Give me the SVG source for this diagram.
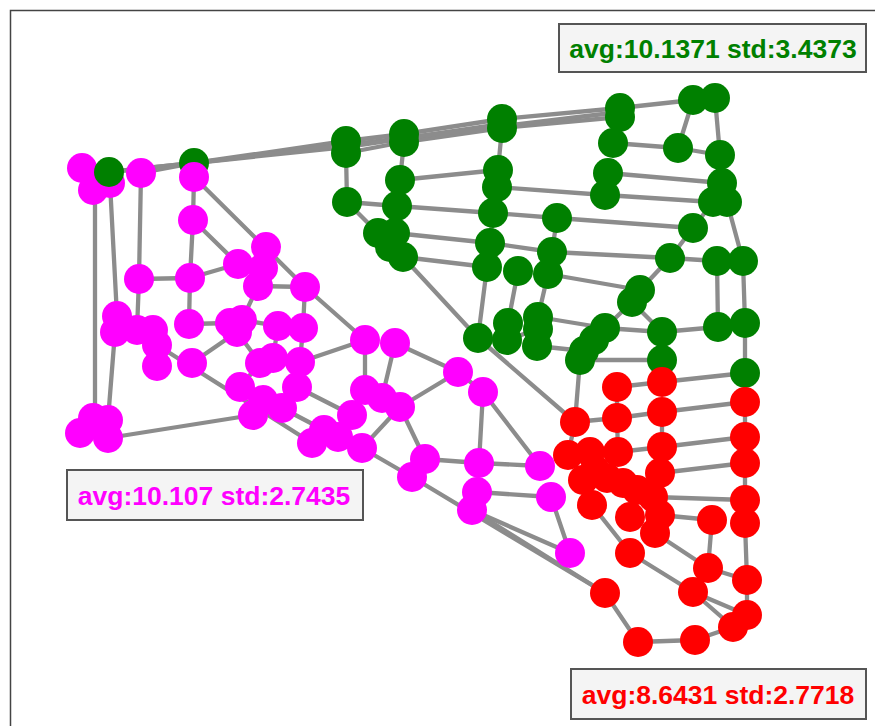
<svg xmlns="http://www.w3.org/2000/svg" width="875" height="726" viewBox="0 0 875 726">
<style>
  .e line { stroke: #8c8c8c; stroke-width: 4.3; stroke-linecap: round; }
  circle { stroke: none; }
  .g { fill: #008000; }
  .m { fill: #ff00ff; }
  .r { fill: #ff0000; }
  .box { fill: #f4f4f4; stroke: #555555; stroke-width: 2; }
  .lbl { font-family: "Liberation Sans", Arial, sans-serif; font-weight: bold; font-size: 26.5px; text-anchor: middle; }
</style>
<rect x="0" y="0" width="875" height="726" fill="#ffffff"/>
<path d="M10.5,726 V10.5 H875" fill="none" stroke="#444444" stroke-width="1.5"/>

<!-- connectors -->
<g id="edges" class="e">
  <!-- long top bundle -->
  <line x1="109" y1="172" x2="194" y2="163"/>
  <line x1="109" y1="172" x2="346" y2="147"/>
  <line x1="141" y1="173" x2="194" y2="163"/>
  <line x1="194" y1="163" x2="346" y2="141"/>
  <line x1="194" y1="163" x2="404" y2="138"/>
  <line x1="346" y1="141" x2="404" y2="134"/>
  <line x1="346" y1="153" x2="404" y2="142"/>
  <line x1="404" y1="134" x2="502" y2="119"/>
  <line x1="404" y1="142" x2="502" y2="128"/>
  <line x1="346" y1="147" x2="502" y2="124"/>
  <line x1="502" y1="119" x2="620" y2="108"/>
  <line x1="502" y1="128" x2="620" y2="117"/>
  <line x1="404" y1="138" x2="620" y2="112"/>
  <line x1="620" y1="108" x2="693" y2="100"/>
  <!-- green region -->
  <line x1="346" y1="153" x2="347" y2="202"/>
  <line x1="404" y1="142" x2="400" y2="180"/>
  <line x1="400" y1="180" x2="397" y2="206"/>
  <line x1="502" y1="128" x2="498" y2="170"/>
  <line x1="400" y1="180" x2="498" y2="170"/>
  <line x1="347" y1="202" x2="397" y2="206"/>
  <line x1="397" y1="206" x2="493" y2="213"/>
  <line x1="347" y1="202" x2="378" y2="233"/>
  <line x1="395" y1="233" x2="490" y2="243"/>
  <line x1="403" y1="257" x2="487" y2="267"/>
  <line x1="493" y1="213" x2="557" y2="218"/>
  <line x1="490" y1="243" x2="552" y2="252"/>
  <line x1="557" y1="218" x2="552" y2="252"/>
  <line x1="403" y1="257" x2="478" y2="338"/>
  <line x1="497" y1="187" x2="605" y2="195"/>
  <line x1="493" y1="213" x2="490" y2="243"/>
  <line x1="552" y1="252" x2="548" y2="274"/>
  <line x1="557" y1="218" x2="693" y2="228"/>
  <line x1="552" y1="252" x2="670" y2="258"/>
  <line x1="670" y1="258" x2="717" y2="261"/>
  <line x1="670" y1="258" x2="640" y2="290"/>
  <line x1="693" y1="228" x2="670" y2="258"/>
  <line x1="713" y1="202" x2="693" y2="228"/>
  <line x1="620" y1="117" x2="613" y2="143"/>
  <line x1="613" y1="143" x2="678" y2="148"/>
  <line x1="678" y1="148" x2="720" y2="155"/>
  <line x1="693" y1="100" x2="678" y2="148"/>
  <line x1="715" y1="98" x2="720" y2="155"/>
  <line x1="720" y1="155" x2="722" y2="183"/>
  <line x1="608" y1="173" x2="722" y2="183"/>
  <line x1="605" y1="195" x2="713" y2="202"/>
  <line x1="727" y1="202" x2="743" y2="261"/>
  <line x1="717" y1="261" x2="718" y2="327"/>
  <line x1="743" y1="261" x2="745" y2="323"/>
  <line x1="745" y1="323" x2="745" y2="373"/>
  <line x1="718" y1="327" x2="662" y2="332"/>
  <line x1="632" y1="302" x2="662" y2="332"/>
  <line x1="605" y1="328" x2="662" y2="332"/>
  <line x1="548" y1="274" x2="640" y2="290"/>
  <line x1="487" y1="267" x2="478" y2="338"/>
  <line x1="518" y1="271" x2="508" y2="323"/>
  <line x1="548" y1="274" x2="538" y2="317"/>
  <line x1="538" y1="317" x2="605" y2="328"/>
  <line x1="537" y1="346" x2="584" y2="351"/>
  <line x1="507" y1="340" x2="538" y2="329"/>
  <line x1="478" y1="338" x2="507" y2="340"/>
  <line x1="580" y1="360" x2="662" y2="360"/>
  <line x1="632" y1="302" x2="605" y2="328"/>
  <line x1="478" y1="338" x2="575" y2="422"/>
  <line x1="580" y1="360" x2="575" y2="422"/>
  <line x1="662" y1="360" x2="662" y2="382"/>
  <line x1="745" y1="373" x2="745" y2="402"/>
  <!-- magenta region -->
  <line x1="95" y1="190" x2="95" y2="418"/>
  <line x1="110" y1="183" x2="117" y2="316"/>
  <line x1="115" y1="332" x2="108" y2="420"/>
  <line x1="141" y1="173" x2="139" y2="279"/>
  <line x1="139" y1="279" x2="190" y2="278"/>
  <line x1="139" y1="279" x2="137" y2="330"/>
  <line x1="194" y1="177" x2="193" y2="220"/>
  <line x1="193" y1="220" x2="190" y2="278"/>
  <line x1="190" y1="278" x2="238" y2="264"/>
  <line x1="193" y1="220" x2="238" y2="264"/>
  <line x1="194" y1="177" x2="305" y2="287"/>
  <line x1="305" y1="287" x2="365" y2="340"/>
  <line x1="258" y1="286" x2="305" y2="287"/>
  <line x1="258" y1="286" x2="242" y2="320"/>
  <line x1="190" y1="278" x2="189" y2="324"/>
  <line x1="189" y1="324" x2="230" y2="323"/>
  <line x1="192" y1="363" x2="237" y2="332"/>
  <line x1="242" y1="320" x2="278" y2="326"/>
  <line x1="237" y1="332" x2="260" y2="363"/>
  <line x1="278" y1="326" x2="273" y2="358"/>
  <line x1="305" y1="287" x2="303" y2="328"/>
  <line x1="303" y1="328" x2="300" y2="362"/>
  <line x1="300" y1="362" x2="365" y2="340"/>
  <line x1="157" y1="345" x2="312" y2="443"/>
  <line x1="108" y1="438" x2="253" y2="415"/>
  <line x1="297" y1="387" x2="352" y2="415"/>
  <line x1="282" y1="408" x2="324" y2="430"/>
  <line x1="300" y1="362" x2="297" y2="387"/>
  <line x1="240" y1="387" x2="263" y2="400"/>
  <line x1="260" y1="363" x2="240" y2="387"/>
  <line x1="365" y1="340" x2="365" y2="390"/>
  <line x1="395" y1="343" x2="382" y2="398"/>
  <line x1="395" y1="343" x2="458" y2="372"/>
  <line x1="400" y1="407" x2="458" y2="372"/>
  <line x1="458" y1="372" x2="483" y2="392"/>
  <line x1="483" y1="392" x2="479" y2="463"/>
  <line x1="483" y1="392" x2="540" y2="466"/>
  <line x1="400" y1="407" x2="425" y2="459"/>
  <line x1="400" y1="407" x2="362" y2="448"/>
  <line x1="362" y1="448" x2="412" y2="477"/>
  <line x1="425" y1="459" x2="479" y2="463"/>
  <line x1="479" y1="463" x2="540" y2="466"/>
  <line x1="477" y1="492" x2="551" y2="497"/>
  <line x1="551" y1="497" x2="570" y2="553"/>
  <line x1="412" y1="477" x2="605" y2="593"/>
  <line x1="472" y1="510" x2="570" y2="553"/>
  <line x1="472" y1="510" x2="605" y2="593"/>
  <line x1="352" y1="415" x2="365" y2="390"/>
  <!-- red region -->
  <line x1="575" y1="422" x2="617" y2="418"/>
  <line x1="617" y1="418" x2="662" y2="412"/>
  <line x1="617" y1="387" x2="662" y2="382"/>
  <line x1="662" y1="382" x2="745" y2="373"/>
  <line x1="662" y1="412" x2="745" y2="402"/>
  <line x1="617" y1="418" x2="618" y2="452"/>
  <line x1="662" y1="412" x2="662" y2="447"/>
  <line x1="662" y1="447" x2="745" y2="437"/>
  <line x1="618" y1="452" x2="662" y2="447"/>
  <line x1="745" y1="402" x2="745" y2="437"/>
  <line x1="575" y1="422" x2="568" y2="455"/>
  <line x1="617" y1="387" x2="617" y2="418"/>
  <line x1="660" y1="473" x2="745" y2="463"/>
  <line x1="653" y1="497" x2="745" y2="500"/>
  <line x1="660" y1="515" x2="712" y2="520"/>
  <line x1="712" y1="520" x2="708" y2="568"/>
  <line x1="708" y1="568" x2="747" y2="580"/>
  <line x1="745" y1="463" x2="745" y2="500"/>
  <line x1="745" y1="523" x2="747" y2="580"/>
  <line x1="747" y1="580" x2="747" y2="615"/>
  <line x1="693" y1="592" x2="733" y2="627"/>
  <line x1="693" y1="592" x2="747" y2="615"/>
  <line x1="655" y1="533" x2="708" y2="568"/>
  <line x1="630" y1="553" x2="693" y2="592"/>
  <line x1="592" y1="505" x2="630" y2="553"/>
  <line x1="605" y1="593" x2="638" y2="642"/>
  <line x1="638" y1="642" x2="695" y2="640"/>
  <line x1="695" y1="640" x2="733" y2="627"/>
</g>

<!-- green nodes -->
<g id="n_g2"><circle class="g" cx="194" cy="163" r="15"/></g>
<g id="n_g3"><circle class="g" cx="346" cy="141" r="15"/></g>
<g id="n_g4"><circle class="g" cx="346" cy="153" r="15"/></g>
<g id="n_g5"><circle class="g" cx="404" cy="134" r="15"/></g>
<g id="n_g6"><circle class="g" cx="404" cy="142" r="15"/></g>
<g id="n_g7"><circle class="g" cx="502" cy="119" r="15"/></g>
<g id="n_g8"><circle class="g" cx="502" cy="128" r="15"/></g>
<g id="n_g9"><circle class="g" cx="620" cy="108" r="15"/></g>
<g id="n_g10"><circle class="g" cx="620" cy="117" r="15"/></g>
<g id="n_g11"><circle class="g" cx="693" cy="100" r="15"/></g>
<g id="n_g12"><circle class="g" cx="715" cy="98" r="15"/></g>
<g id="n_g13"><circle class="g" cx="347" cy="202" r="15"/></g>
<g id="n_g14"><circle class="g" cx="400" cy="180" r="15"/></g>
<g id="n_g15"><circle class="g" cx="397" cy="206" r="15"/></g>
<g id="n_g16"><circle class="g" cx="378" cy="233" r="15"/></g>
<g id="n_g17"><circle class="g" cx="395" cy="233" r="15"/></g>
<g id="n_g18"><circle class="g" cx="390" cy="247" r="15"/></g>
<g id="n_g19"><circle class="g" cx="403" cy="257" r="15"/></g>
<g id="n_g20"><circle class="g" cx="498" cy="170" r="15"/></g>
<g id="n_g21"><circle class="g" cx="497" cy="187" r="15"/></g>
<g id="n_g22"><circle class="g" cx="493" cy="213" r="15"/></g>
<g id="n_g23"><circle class="g" cx="490" cy="243" r="15"/></g>
<g id="n_g24"><circle class="g" cx="487" cy="267" r="15"/></g>
<g id="n_g25"><circle class="g" cx="557" cy="218" r="15"/></g>
<g id="n_g26"><circle class="g" cx="552" cy="252" r="15"/></g>
<g id="n_g27"><circle class="g" cx="518" cy="271" r="15"/></g>
<g id="n_g28"><circle class="g" cx="548" cy="274" r="15"/></g>
<g id="n_g29"><circle class="g" cx="613" cy="143" r="15"/></g>
<g id="n_g30"><circle class="g" cx="678" cy="148" r="15"/></g>
<g id="n_g31"><circle class="g" cx="720" cy="155" r="15"/></g>
<g id="n_g32"><circle class="g" cx="608" cy="173" r="15"/></g>
<g id="n_g33"><circle class="g" cx="605" cy="195" r="15"/></g>
<g id="n_g34"><circle class="g" cx="722" cy="183" r="15"/></g>
<g id="n_g35"><circle class="g" cx="713" cy="202" r="15"/></g>
<g id="n_g36"><circle class="g" cx="727" cy="202" r="15"/></g>
<g id="n_g37"><circle class="g" cx="693" cy="228" r="15"/></g>
<g id="n_g38"><circle class="g" cx="670" cy="258" r="15"/></g>
<g id="n_g39"><circle class="g" cx="717" cy="261" r="15"/></g>
<g id="n_g40"><circle class="g" cx="743" cy="261" r="15"/></g>
<g id="n_g41"><circle class="g" cx="640" cy="290" r="15"/></g>
<g id="n_g42"><circle class="g" cx="632" cy="302" r="15"/></g>
<g id="n_g43"><circle class="g" cx="478" cy="338" r="15"/></g>
<g id="n_g44"><circle class="g" cx="508" cy="323" r="15"/></g>
<g id="n_g45"><circle class="g" cx="507" cy="340" r="15"/></g>
<g id="n_g46"><circle class="g" cx="538" cy="317" r="15"/></g>
<g id="n_g47"><circle class="g" cx="538" cy="329" r="15"/></g>
<g id="n_g48"><circle class="g" cx="537" cy="346" r="15"/></g>
<g id="n_g49"><circle class="g" cx="605" cy="328" r="15"/></g>
<g id="n_g50"><circle class="g" cx="594" cy="340" r="15"/></g>
<g id="n_g51"><circle class="g" cx="584" cy="351" r="15"/></g>
<g id="n_g52"><circle class="g" cx="580" cy="360" r="15"/></g>
<g id="n_g53"><circle class="g" cx="662" cy="332" r="15"/></g>
<g id="n_g54"><circle class="g" cx="662" cy="360" r="15"/></g>
<g id="n_g55"><circle class="g" cx="718" cy="327" r="15"/></g>
<g id="n_g56"><circle class="g" cx="745" cy="323" r="15"/></g>
<g id="n_g57"><circle class="g" cx="745" cy="373" r="15"/></g>

<!-- magenta nodes -->
<g id="n_m1"><circle class="m" cx="82" cy="168" r="15"/></g>
<g id="n_m2"><circle class="m" cx="93" cy="190" r="15"/></g>
<g id="n_m3"><circle class="m" cx="110" cy="183" r="15"/></g>
<g id="n_m4"><circle class="m" cx="141" cy="173" r="15"/></g>
<g id="n_m5"><circle class="m" cx="194" cy="177" r="15"/></g>
<g id="n_m6"><circle class="m" cx="193" cy="220" r="15"/></g>
<g id="n_m7"><circle class="m" cx="266" cy="247" r="15"/></g>
<g id="n_m8"><circle class="m" cx="238" cy="264" r="15"/></g>
<g id="n_m9"><circle class="m" cx="263" cy="268" r="15"/></g>
<g id="n_m10"><circle class="m" cx="258" cy="286" r="15"/></g>
<g id="n_m11"><circle class="m" cx="305" cy="287" r="15"/></g>
<g id="n_m12"><circle class="m" cx="139" cy="279" r="15"/></g>
<g id="n_m13"><circle class="m" cx="190" cy="278" r="15"/></g>
<g id="n_m14"><circle class="m" cx="117" cy="316" r="15"/></g>
<g id="n_m15"><circle class="m" cx="115" cy="332" r="15"/></g>
<g id="n_m16"><circle class="m" cx="137" cy="330" r="15"/></g>
<g id="n_m17"><circle class="m" cx="153" cy="330" r="15"/></g>
<g id="n_m18"><circle class="m" cx="157" cy="345" r="15"/></g>
<g id="n_m19"><circle class="m" cx="157" cy="366" r="15"/></g>
<g id="n_m20"><circle class="m" cx="189" cy="324" r="15"/></g>
<g id="n_m21"><circle class="m" cx="192" cy="363" r="15"/></g>
<g id="n_m22"><circle class="m" cx="230" cy="323" r="15"/></g>
<g id="n_m23"><circle class="m" cx="242" cy="320" r="15"/></g>
<g id="n_m24"><circle class="m" cx="237" cy="332" r="15"/></g>
<g id="n_m25"><circle class="m" cx="278" cy="326" r="15"/></g>
<g id="n_m26"><circle class="m" cx="303" cy="328" r="15"/></g>
<g id="n_m27"><circle class="m" cx="260" cy="363" r="15"/></g>
<g id="n_m28"><circle class="m" cx="273" cy="358" r="15"/></g>
<g id="n_m29"><circle class="m" cx="300" cy="362" r="15"/></g>
<g id="n_m30"><circle class="m" cx="240" cy="387" r="15"/></g>
<g id="n_m31"><circle class="m" cx="297" cy="387" r="15"/></g>
<g id="n_m32"><circle class="m" cx="263" cy="400" r="15"/></g>
<g id="n_m33"><circle class="m" cx="253" cy="415" r="15"/></g>
<g id="n_m34"><circle class="m" cx="282" cy="408" r="15"/></g>
<g id="n_m35"><circle class="m" cx="93" cy="418" r="15"/></g>
<g id="n_m36"><circle class="m" cx="108" cy="420" r="15"/></g>
<g id="n_m37"><circle class="m" cx="80" cy="433" r="15"/></g>
<g id="n_m38"><circle class="m" cx="108" cy="438" r="15"/></g>
<g id="n_m39"><circle class="m" cx="324" cy="430" r="15"/></g>
<g id="n_m40"><circle class="m" cx="312" cy="443" r="15"/></g>
<g id="n_m41"><circle class="m" cx="338" cy="437" r="15"/></g>
<g id="n_m42"><circle class="m" cx="352" cy="415" r="15"/></g>
<g id="n_m43"><circle class="m" cx="362" cy="448" r="15"/></g>
<g id="n_m44"><circle class="m" cx="365" cy="340" r="15"/></g>
<g id="n_m45"><circle class="m" cx="395" cy="343" r="15"/></g>
<g id="n_m46"><circle class="m" cx="458" cy="372" r="15"/></g>
<g id="n_m47"><circle class="m" cx="483" cy="392" r="15"/></g>
<g id="n_m48"><circle class="m" cx="365" cy="390" r="15"/></g>
<g id="n_m49"><circle class="m" cx="382" cy="398" r="15"/></g>
<g id="n_m50"><circle class="m" cx="400" cy="407" r="15"/></g>
<g id="n_m51"><circle class="m" cx="425" cy="459" r="15"/></g>
<g id="n_m52"><circle class="m" cx="412" cy="477" r="15"/></g>
<g id="n_m53"><circle class="m" cx="479" cy="463" r="15"/></g>
<g id="n_m54"><circle class="m" cx="540" cy="466" r="15"/></g>
<g id="n_m55"><circle class="m" cx="477" cy="492" r="15"/></g>
<g id="n_m56"><circle class="m" cx="472" cy="510" r="15"/></g>
<g id="n_m57"><circle class="m" cx="551" cy="497" r="15"/></g>
<g id="n_m58"><circle class="m" cx="570" cy="553" r="15"/></g>
<g id="n_g1"><circle class="g" cx="109" cy="172" r="15"/></g>

<!-- red nodes -->
<g id="n_r1"><circle class="r" cx="617" cy="387" r="15"/></g>
<g id="n_r2"><circle class="r" cx="662" cy="382" r="15"/></g>
<g id="n_r3"><circle class="r" cx="745" cy="402" r="15"/></g>
<g id="n_r4"><circle class="r" cx="617" cy="418" r="15"/></g>
<g id="n_r5"><circle class="r" cx="662" cy="412" r="15"/></g>
<g id="n_r6"><circle class="r" cx="575" cy="422" r="15"/></g>
<g id="n_r7"><circle class="r" cx="745" cy="437" r="15"/></g>
<g id="n_r8"><circle class="r" cx="662" cy="447" r="15"/></g>
<g id="n_r9"><circle class="r" cx="568" cy="455" r="15"/></g>
<g id="n_r10"><circle class="r" cx="590" cy="452" r="15"/></g>
<g id="n_r11"><circle class="r" cx="618" cy="452" r="15"/></g>
<g id="n_r12"><circle class="r" cx="745" cy="463" r="15"/></g>
<g id="n_r13"><circle class="r" cx="583" cy="480" r="15"/></g>
<g id="n_r14"><circle class="r" cx="595" cy="470" r="15"/></g>
<g id="n_r15"><circle class="r" cx="660" cy="473" r="15"/></g>
<g id="n_r16"><circle class="r" cx="623" cy="483" r="15"/></g>
<g id="n_r17"><circle class="r" cx="637" cy="490" r="15"/></g>
<g id="n_r35"><circle class="r" cx="607" cy="478" r="15"/></g>
<g id="n_r18"><circle class="r" cx="592" cy="505" r="15"/></g>
<g id="n_r19"><circle class="r" cx="630" cy="517" r="15"/></g>
<g id="n_r20"><circle class="r" cx="653" cy="497" r="15"/></g>
<g id="n_r21"><circle class="r" cx="660" cy="515" r="15"/></g>
<g id="n_r22"><circle class="r" cx="655" cy="533" r="15"/></g>
<g id="n_r23"><circle class="r" cx="745" cy="500" r="15"/></g>
<g id="n_r24"><circle class="r" cx="745" cy="523" r="15"/></g>
<g id="n_r25"><circle class="r" cx="712" cy="520" r="15"/></g>
<g id="n_r26"><circle class="r" cx="630" cy="553" r="15"/></g>
<g id="n_r27"><circle class="r" cx="708" cy="568" r="15"/></g>
<g id="n_r28"><circle class="r" cx="693" cy="592" r="15"/></g>
<g id="n_r29"><circle class="r" cx="747" cy="580" r="15"/></g>
<g id="n_r30"><circle class="r" cx="605" cy="593" r="15"/></g>
<g id="n_r31"><circle class="r" cx="747" cy="615" r="15"/></g>
<g id="n_r32"><circle class="r" cx="733" cy="627" r="15"/></g>
<g id="n_r33"><circle class="r" cx="638" cy="642" r="15"/></g>
<g id="n_r34"><circle class="r" cx="695" cy="640" r="15"/></g>

<!-- cluster statistics labels -->
<g id="label_green">
  <rect class="box" x="559" y="24" width="307" height="48"/>
  <text class="lbl" x="713" y="58" fill="#008000">avg:10.1371 std:3.4373</text>
</g>
<g id="label_magenta">
  <rect class="box" x="67" y="470" width="296" height="50"/>
  <text class="lbl" x="214" y="505" fill="#ff00ff">avg:10.107 std:2.7435</text>
</g>
<g id="label_red">
  <rect class="box" x="571" y="669" width="295" height="50"/>
  <text class="lbl" x="718" y="704" fill="#ff0000">avg:8.6431 std:2.7718</text>
</g>
</svg>
